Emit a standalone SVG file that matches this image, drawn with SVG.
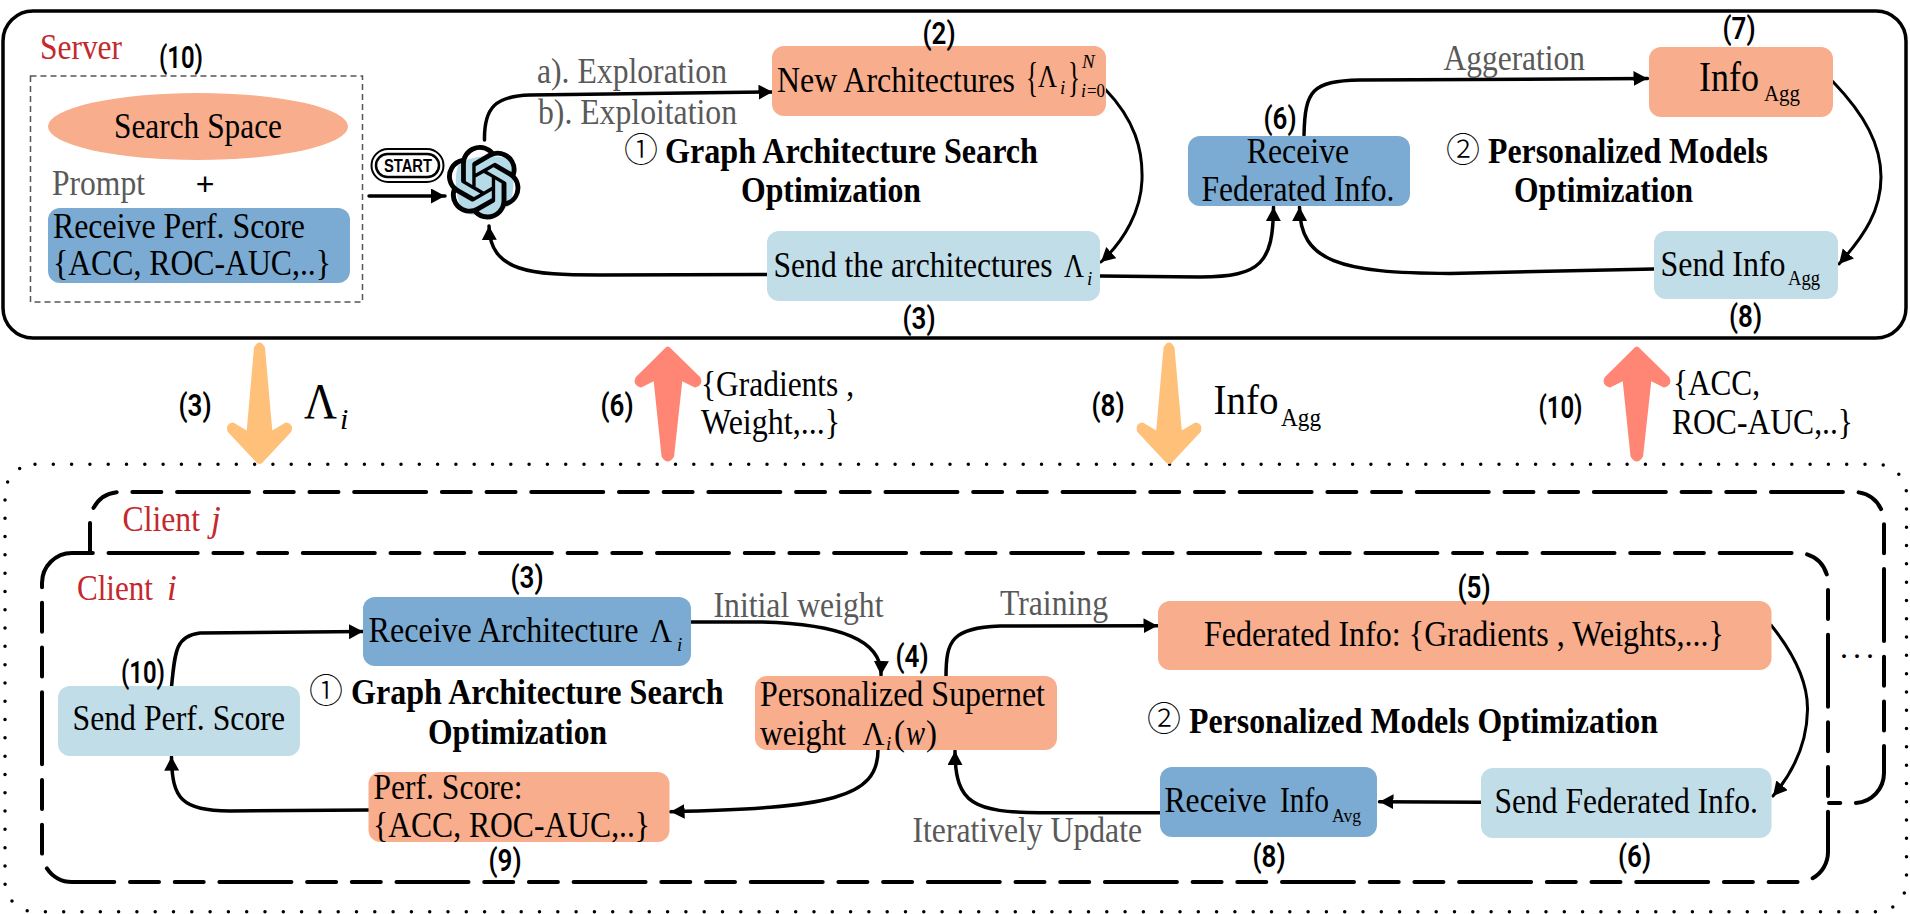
<svg xmlns="http://www.w3.org/2000/svg" xmlns:xlink="http://www.w3.org/1999/xlink" width="1910" height="914" viewBox="0 0 1910 914">
<style>
text{font-family:"Liberation Serif","Times New Roman",serif;font-size:35px;fill:#000;transform:translateY(2px)}
.g{fill:#595959}
.r{fill:#C4282C}
.b{font-weight:bold}
.it{font-style:italic}
.lbl{font-family:Roboto,"Liberation Sans",sans-serif;font-weight:600;font-size:31px;text-anchor:middle;transform:translateY(1px)}
.circ{font-family:"Noto Sans CJK SC","DejaVu Sans",sans-serif;font-weight:300;font-size:34px}
.o{fill:#F8AD8C}.bl{fill:#7BABD2}.lb{fill:#C1DDE8}
.c{fill:none;stroke:#000;stroke-width:3.5;stroke-linecap:round}
.a{marker-end:url(#ah)}
.d{fill:none;stroke:#000;stroke-width:4;stroke-linecap:round;stroke-dasharray:72 15.7 29 15.7 29 15.7}
</style>
<defs>
<marker id="ah" markerUnits="userSpaceOnUse" markerWidth="16" markerHeight="16" refX="14" refY="7.5" orient="auto"><path d="M0 0L14 7.5L0 15Z" fill="#000"/></marker>
<path id="down" d="M255.5 348Q259.5 340 263.5 348L271 433L286 424Q292 425 290 431L261 462Q259.5 463 258 462L229 431Q227 425 233 424L248 433Z" fill="#FFC07A" stroke="#FFC07A" stroke-width="3" stroke-linejoin="round"/>
<path id="up" d="M663 456Q667.8 464 672.600 456L681 379L695 386Q702 384 699 378L669.300 349Q667.800 347 666.300 349L637 378Q634 384 641 386L655 379Z" fill="#FF8575" stroke="#FF8575" stroke-width="3" stroke-linejoin="round"/>
</defs>
<rect width="1910" height="914" fill="#fff"/>

<g id="server">
<rect x="3" y="11" width="1903" height="327" rx="30" fill="#fff" stroke="#000" stroke-width="3.5"/>
<text class="r" x="40" y="57" textLength="82" lengthAdjust="spacingAndGlyphs">Server</text>
</g>
<g id="clients">
<rect x="5" y="464.300" width="1901.500" height="447.400" rx="30" fill="none" stroke="#000" stroke-width="3.500" stroke-linecap="round" stroke-dasharray="0 18.3"/>
<path class="d" stroke-dashoffset="42" d="M90 553V522A30 30 0 0 1 120 492H1854A30 30 0 0 1 1884 522V773A30 30 0 0 1 1854 803H1829"/>
<path class="d" d="M125.700 553H1798A30 30 0 0 1 1828 583V852A30 30 0 0 1 1798 882H72A30 30 0 0 1 42 852V583A30 30 0 0 1 72 553Z"/>
<text class="r" y="529"><tspan x="122.500" textLength="77.500" lengthAdjust="spacingAndGlyphs">Client</tspan><tspan class="it" x="211">j</tspan></text>
<text class="r" y="598"><tspan x="77" textLength="76" lengthAdjust="spacingAndGlyphs">Client</tspan><tspan class="it" x="167">i</tspan></text>
<text x="1840" y="656" letter-spacing="5" style="font-size:32px">...</text>
</g>

<g id="connectors">
<path class="c a" d="M484.500 140C484 108 495 96 530 95L772.500 92"/>
<path class="c a" style="stroke-width:3" d="M1105 89C1135 120 1143 150 1142 180C1141 210 1125 240 1101 262"/>
<path class="c a" d="M767 274.500L600 275C530 275 490 272 489 226"/>
<path class="c a" d="M1100 276L1200 277C1262 277 1273 262 1273.500 207"/>
<path class="c a" d="M1304 135C1305 90 1312 81 1360 80L1647.500 78.500"/>
<path class="c a" style="stroke-width:3" d="M1833 81.700C1865 115 1881 145 1881 177C1881 210 1865 235 1839 264"/>
<path class="c a" d="M1654 269L1450 273.500C1340 273 1300 262 1299.500 207"/>
<path class="c a" d="M369 196H445"/>

<path class="c a" d="M691 622L760 622C840 624 882 640 881 675"/>
<path class="c a" d="M946 676.700C946 640 952 628 1000 626L1157.500 625.700"/>
<path class="c a" style="stroke-width:3" d="M1771 625C1795 655 1808 685 1807.500 710C1807 740 1795 770 1773 796"/>
<path class="c a" d="M1481 802.300L1379.500 801.700"/>
<path class="c a" d="M1160 812.700L1040 812.700C975 812 955 805 955 751"/>
<path class="c a" d="M878 750C878 798 830 808 670.600 811.700"/>
<path class="c a" d="M368.600 810L230 811C182 810 172 800 171.500 756.700"/>
<path class="c a" d="M171.500 687C175 650 176 636 200 633L363 631.500"/>

<use href="#down"/>
<use href="#down" x="909.500"/>
<use href="#up"/>
<use href="#up" x="969"/>
</g>

<g id="prompt-box">
<rect x="30.500" y="76" width="332" height="226" fill="none" stroke="#555" stroke-width="1.500" stroke-dasharray="6 4"/>
<ellipse cx="198" cy="126.500" rx="150" ry="33.500" class="o"/>
<text x="198" y="136" text-anchor="middle" textLength="168" lengthAdjust="spacingAndGlyphs">Search Space</text>
<text class="g" x="52" y="193" textLength="93" lengthAdjust="spacingAndGlyphs">Prompt</text>
<text x="205" y="193" text-anchor="middle" style="font-family:'Liberation Sans',sans-serif;font-size:32px">+</text>
<rect x="48" y="208" width="302" height="75" rx="12" class="bl"/>
<text x="53" y="236" textLength="252" lengthAdjust="spacingAndGlyphs">Receive Perf. Score</text>
<text x="53" y="273" textLength="278" lengthAdjust="spacingAndGlyphs">{ACC, ROC-AUC,..}</text>
</g>

<g id="start">
<rect x="371.500" y="149" width="72" height="33" rx="16.500" fill="none" stroke="#000" stroke-width="2"/>
<rect x="376" y="154" width="63" height="23" rx="11.500" fill="none" stroke="#000" stroke-width="2.500"/>
<text x="408" y="169.500" text-anchor="middle" style="font-family:'Liberation Sans',sans-serif;font-weight:bold;font-size:19px" textLength="48" lengthAdjust="spacingAndGlyphs">START</text>
</g>

<g id="llm">
<path d="M466 160Q490 152 512 160Q516 185 510 205Q490 222 462 212Q452 185 458 165Z" fill="#B5DBE8"/>
<path transform="translate(446.500 145) scale(3.1)" fill="#000" d="M22.2819 9.8211a5.9847 5.9847 0 0 0-.5157-4.9108 6.0462 6.0462 0 0 0-6.5098-2.9A6.0651 6.0651 0 0 0 4.9807 4.1818a5.9847 5.9847 0 0 0-3.9977 2.9 6.0462 6.0462 0 0 0 .7427 7.0966 5.98 5.98 0 0 0 .511 4.9107 6.051 6.051 0 0 0 6.5146 2.9001A5.9847 5.9847 0 0 0 13.2599 24a6.0557 6.0557 0 0 0 5.7718-4.2058 5.9894 5.9894 0 0 0 3.9977-2.9001 6.0557 6.0557 0 0 0-.7475-7.0729zm-9.022 12.6081a4.4755 4.4755 0 0 1-2.8764-1.0408l.1419-.0804 4.7783-2.7582a.7948.7948 0 0 0 .3927-.6813v-6.7369l2.02 1.1686a.071.071 0 0 1 .038.052v5.5826a4.504 4.504 0 0 1-4.4945 4.4944zm-9.6607-4.1254a4.4708 4.4708 0 0 1-.5346-3.0137l.142.0852 4.783 2.7582a.7712.7712 0 0 0 .7806 0l5.8428-3.3685v2.3324a.0804.0804 0 0 1-.0332.0615L9.74 19.9502a4.4992 4.4992 0 0 1-6.1408-1.6464zM2.3408 7.8956a4.485 4.485 0 0 1 2.3655-1.9728V11.6a.7664.7664 0 0 0 .3879.6765l5.8144 3.3543-2.0201 1.1685a.0757.0757 0 0 1-.071 0l-4.8303-2.7865A4.504 4.504 0 0 1 2.3408 7.872zm16.5963 3.8558L13.1038 8.364 15.1192 7.2a.0757.0757 0 0 1 .071 0l4.8303 2.7913a4.4944 4.4944 0 0 1-.6765 8.1042v-5.6772a.79.79 0 0 0-.407-.667zm2.0107-3.0231l-.142-.0852-4.7735-2.7818a.7759.7759 0 0 0-.7854 0L9.409 9.2297V6.8974a.0662.0662 0 0 1 .0284-.0615l4.8303-2.7866a4.4992 4.4992 0 0 1 6.6802 4.66zM8.3065 12.863l-2.02-1.1638a.0804.0804 0 0 1-.038-.0567V6.0742a4.4992 4.4992 0 0 1 7.3757-3.4537l-.142.0805L8.704 5.459a.7948.7948 0 0 0-.3927.6813zm1.0976-2.3654l2.602-1.4998 2.6069 1.4998v2.9994l-2.5974 1.4997-2.6067-1.4997Z"/>
</g>

<g id="s-labels">
<text class="g" x="537" y="81" textLength="190" lengthAdjust="spacingAndGlyphs">a). Exploration</text>
<text class="g" x="538" y="122" textLength="199" lengthAdjust="spacingAndGlyphs">b). Exploitation</text>
<text class="g" x="1443.500" y="68" textLength="141.500" lengthAdjust="spacingAndGlyphs">Aggeration</text>
<text class="circ" x="624" y="160">①</text>
<text class="b" x="665" y="161" textLength="373" lengthAdjust="spacingAndGlyphs">Graph Architecture Search</text>
<text class="b" x="831" y="200" text-anchor="middle" textLength="180" lengthAdjust="spacingAndGlyphs">Optimization</text>
<text class="circ" x="1446" y="160">②</text>
<text class="b" x="1488" y="161" textLength="280" lengthAdjust="spacingAndGlyphs">Personalized Models</text>
<text class="b" x="1603.500" y="200" text-anchor="middle" textLength="179" lengthAdjust="spacingAndGlyphs">Optimization</text>
</g>

<g id="new-arch">
<rect x="772" y="46" width="334" height="70" rx="12" class="o"/>
<text x="777" y="90" textLength="238" lengthAdjust="spacingAndGlyphs">New Architectures</text>
<text><tspan x="1026" y="89" style="font-size:42px" textLength="12" lengthAdjust="spacingAndGlyphs">{</tspan><tspan x="1038" y="85" style="font-size:31px" textLength="19" lengthAdjust="spacingAndGlyphs">Λ</tspan><tspan class="it" x="1060" y="92" style="font-size:19px">i</tspan><tspan x="1068" y="89" style="font-size:42px" textLength="12" lengthAdjust="spacingAndGlyphs">}</tspan><tspan class="it" x="1082" y="66" style="font-size:19px">N</tspan><tspan class="it" x="1081" y="95" style="font-size:18px">i</tspan><tspan x="1087" y="95" style="font-size:18px" textLength="18" lengthAdjust="spacingAndGlyphs">=0</tspan></text>
</g>
<g id="send-arch">
<rect x="767" y="231" width="333" height="70" rx="12" class="lb"/>
<text x="773.500" y="275" textLength="279" lengthAdjust="spacingAndGlyphs">Send the architectures</text>
<text><tspan x="1064" y="275" style="font-size:33px" textLength="20" lengthAdjust="spacingAndGlyphs">Λ</tspan><tspan class="it" x="1087" y="283" style="font-size:19px">i</tspan></text>
</g>
<g id="recv-fed">
<rect x="1188" y="136" width="222" height="70" rx="12" class="bl"/>
<text x="1298" y="161" text-anchor="middle" textLength="102.500" lengthAdjust="spacingAndGlyphs">Receive</text>
<text x="1298" y="199" text-anchor="middle" textLength="193" lengthAdjust="spacingAndGlyphs">Federated Info.</text>
</g>
<g id="info-agg">
<rect x="1649" y="47" width="184" height="70" rx="12" class="o"/>
<text><tspan x="1699" y="89" style="font-size:42px" textLength="60" lengthAdjust="spacingAndGlyphs">Info</tspan><tspan x="1764" y="99" style="font-size:23px" textLength="36" lengthAdjust="spacingAndGlyphs">Agg</tspan></text>
</g>
<g id="send-info">
<rect x="1654" y="231" width="184" height="68" rx="12" class="lb"/>
<text><tspan x="1660.500" y="274" textLength="125" lengthAdjust="spacingAndGlyphs">Send Info</tspan><tspan x="1788" y="283" style="font-size:21px" textLength="32" lengthAdjust="spacingAndGlyphs">Agg</tspan></text>
</g>

<g id="transfer-labels">
<text><tspan x="304" y="416" style="font-size:50px" textLength="33" lengthAdjust="spacingAndGlyphs">Λ</tspan><tspan class="it" x="340" y="427" style="font-size:30px">i</tspan></text>
<text x="701" y="394" textLength="153" lengthAdjust="spacingAndGlyphs">{Gradients ,</text>
<text x="701" y="432" textLength="139" lengthAdjust="spacingAndGlyphs">Weight,...}</text>
<text><tspan x="1213.500" y="412" style="font-size:43px" textLength="65" lengthAdjust="spacingAndGlyphs">Info</tspan><tspan x="1281" y="424" style="font-size:25px" textLength="40" lengthAdjust="spacingAndGlyphs">Agg</tspan></text>
<text x="1673" y="393" textLength="87" lengthAdjust="spacingAndGlyphs">{ACC,</text>
<text x="1672" y="432" textLength="181" lengthAdjust="spacingAndGlyphs">ROC-AUC,..}</text>
</g>

<g id="recv-arch">
<rect x="363" y="597" width="328" height="69" rx="12" class="bl"/>
<text x="368.500" y="640" textLength="270" lengthAdjust="spacingAndGlyphs">Receive Architecture</text>
<text><tspan x="650" y="640" style="font-size:34px" textLength="22" lengthAdjust="spacingAndGlyphs">Λ</tspan><tspan class="it" x="677" y="649" style="font-size:19px">i</tspan></text>
</g>
<g id="send-perf">
<rect x="58" y="686" width="242" height="70" rx="12" class="lb"/>
<text x="72.500" y="728" textLength="212.500" lengthAdjust="spacingAndGlyphs">Send Perf. Score</text>
</g>
<g id="perf-score">
<rect x="368.500" y="772" width="301" height="70" rx="12" class="o"/>
<text x="373.500" y="796.500" textLength="149" lengthAdjust="spacingAndGlyphs">Perf. Score:</text>
<text x="373" y="835" textLength="277" lengthAdjust="spacingAndGlyphs">{ACC, ROC-AUC,..}</text>
</g>
<g id="supernet">
<rect x="755" y="676" width="302" height="74" rx="12" class="o"/>
<text x="760" y="704" textLength="285" lengthAdjust="spacingAndGlyphs">Personalized Supernet</text>
<text x="760" y="742.500" textLength="86" lengthAdjust="spacingAndGlyphs">weight</text>
<text><tspan x="862.500" y="742.500" style="font-size:34px" textLength="22" lengthAdjust="spacingAndGlyphs">Λ</tspan><tspan class="it" x="886" y="748" style="font-size:19px">i</tspan><tspan x="894" y="742.500" textLength="11" lengthAdjust="spacingAndGlyphs">(</tspan><tspan class="it" x="906" y="742.500" textLength="19" lengthAdjust="spacingAndGlyphs">w</tspan><tspan x="926" y="742.500" textLength="11" lengthAdjust="spacingAndGlyphs">)</tspan></text>
</g>
<g id="fed-info">
<rect x="1158" y="601" width="613.500" height="69" rx="12" class="o"/>
<text x="1204" y="644" textLength="520" lengthAdjust="spacingAndGlyphs">Federated Info: {Gradients , Weights,...}</text>
</g>
<g id="send-fed">
<rect x="1481" y="768" width="290.500" height="70" rx="12" class="lb"/>
<text x="1494.500" y="811" textLength="263.500" lengthAdjust="spacingAndGlyphs">Send Federated Info.</text>
</g>
<g id="recv-info">
<rect x="1160" y="767" width="217" height="70" rx="12" class="bl"/>
<text><tspan x="1164.500" y="810" textLength="102" lengthAdjust="spacingAndGlyphs">Receive</tspan><tspan x="1280" y="810" textLength="49" lengthAdjust="spacingAndGlyphs">Info</tspan><tspan x="1332" y="820" style="font-size:19px" textLength="29" lengthAdjust="spacingAndGlyphs">Avg</tspan></text>
</g>

<g id="c-labels">
<text class="g" x="713.500" y="615" textLength="170" lengthAdjust="spacingAndGlyphs">Initial weight</text>
<text class="g" x="1000" y="613" textLength="108" lengthAdjust="spacingAndGlyphs">Training</text>
<text class="g" x="912.500" y="840" textLength="229.500" lengthAdjust="spacingAndGlyphs">Iteratively Update</text>
<text class="circ" x="309" y="701">①</text>
<text class="b" x="351" y="702" textLength="372.500" lengthAdjust="spacingAndGlyphs">Graph Architecture Search</text>
<text class="b" x="517.500" y="741.500" text-anchor="middle" textLength="179" lengthAdjust="spacingAndGlyphs">Optimization</text>
<text class="circ" x="1147" y="729">②</text>
<text class="b" x="1189" y="730.500" textLength="469" lengthAdjust="spacingAndGlyphs">Personalized Models Optimization</text>
</g>

<g id="steps">
<text class="lbl" x="181" y="66.500" textLength="44" lengthAdjust="spacingAndGlyphs">(10)</text>
<text class="lbl" x="939" y="43" textLength="33" lengthAdjust="spacingAndGlyphs">(2)</text>
<text class="lbl" x="919" y="328" textLength="33" lengthAdjust="spacingAndGlyphs">(3)</text>
<text class="lbl" x="1280" y="128" textLength="33" lengthAdjust="spacingAndGlyphs">(6)</text>
<text class="lbl" x="1739" y="38" textLength="33" lengthAdjust="spacingAndGlyphs">(7)</text>
<text class="lbl" x="1745.500" y="326" textLength="33" lengthAdjust="spacingAndGlyphs">(8)</text>
<text class="lbl" x="195" y="415" textLength="33" lengthAdjust="spacingAndGlyphs">(3)</text>
<text class="lbl" x="617" y="415" textLength="33" lengthAdjust="spacingAndGlyphs">(6)</text>
<text class="lbl" x="1108" y="415" textLength="33" lengthAdjust="spacingAndGlyphs">(8)</text>
<text class="lbl" x="1560.500" y="417" textLength="44" lengthAdjust="spacingAndGlyphs">(10)</text>
<text class="lbl" x="527" y="587" textLength="33" lengthAdjust="spacingAndGlyphs">(3)</text>
<text class="lbl" x="912" y="666" textLength="33" lengthAdjust="spacingAndGlyphs">(4)</text>
<text class="lbl" x="1474" y="597" textLength="33" lengthAdjust="spacingAndGlyphs">(5)</text>
<text class="lbl" x="143" y="681.500" textLength="44" lengthAdjust="spacingAndGlyphs">(10)</text>
<text class="lbl" x="505" y="870" textLength="33" lengthAdjust="spacingAndGlyphs">(9)</text>
<text class="lbl" x="1269" y="866" textLength="33" lengthAdjust="spacingAndGlyphs">(8)</text>
<text class="lbl" x="1634.500" y="866" textLength="33" lengthAdjust="spacingAndGlyphs">(6)</text>
</g>
</svg>
